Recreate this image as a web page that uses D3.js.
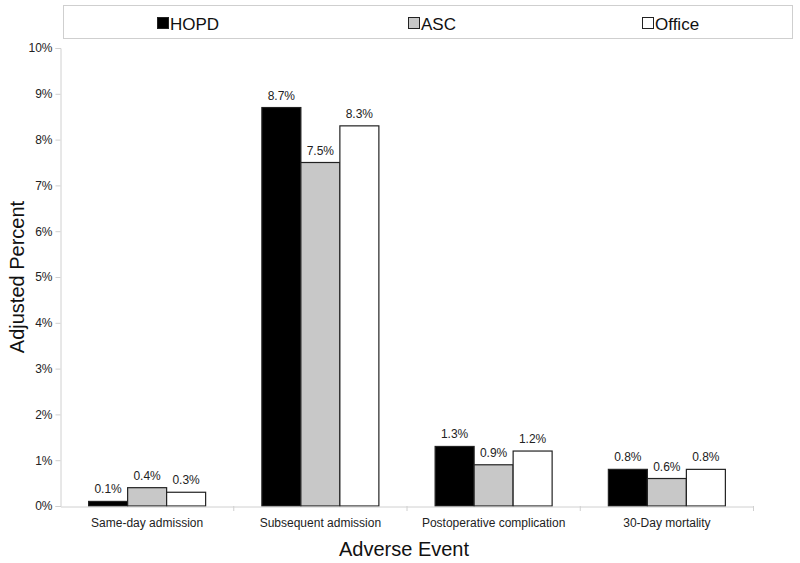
<!DOCTYPE html>
<html><head><meta charset="utf-8">
<script src="https://cdn.jsdelivr.net/npm/d3@7"></script>
<style>body{margin:0;background:#fff}svg{display:block}text{font-family:Arial,"Liberation Sans",sans-serif}</style>
</head><body><svg id="c" width="800" height="563"></svg>
<script>
const categories = ["Same-day admission","Subsequent admission","Postoperative complication","30-Day mortality"];
const seriesNames = ["HOPD","ASC","Office"];
const hopd = [0.1, 8.7, 1.3, 0.8];
const asc = [0.4, 7.5, 0.9, 0.6];
const office = [0.3, 8.3, 1.2, 0.8];
const yTicks = [0,1,2,3,4,5,6,7,8,9,10];
const seriesValues = [hopd, asc, office];
const colors = ["#000000","#c8c8c8","#ffffff"];

const svg = d3.select("#c");
const x = d3.scaleBand().domain(categories).range([60.5, 753.5]);
const y = d3.scaleLinear().domain([0,10]).range([506, 48]);
const inner = d3.scaleBand().domain(seriesNames).range([0, 117]);
const off = (x.bandwidth() - 117) / 2;

// y axis
const ya = svg.append("g").attr("transform","translate(60.5,0)")
  .call(d3.axisLeft(y).tickValues(yTicks).tickFormat(d => d + "%").tickSize(5).tickPadding(3));
ya.select(".domain").attr("stroke","#d0d0d0");
ya.selectAll(".tick line").attr("stroke","#d0d0d0");
ya.selectAll(".tick text").attr("font-size",12).attr("fill","#222");

// bars
categories.forEach((c, ci) => {
  seriesNames.forEach((s, si) => {
    const v = seriesValues[si][ci];
    const bx = x(c) + off + inner(s);
    svg.append("rect").attr("x", bx).attr("y", y(v)).attr("width", inner.bandwidth()).attr("height", y(0) - y(v))
      .attr("fill", colors[si]).attr("stroke", "#222").attr("stroke-width", 1.2);
    svg.append("text").attr("x", bx + inner.bandwidth()/2).attr("y", y(v) - 8)
      .attr("text-anchor","middle").attr("font-size",12).attr("fill","#222").text(v.toFixed(1) + "%");
  });
});

// x axis
const xa = svg.append("g").attr("transform","translate(0,506.5)")
  .call(d3.axisBottom(x).tickSize(0).tickPadding(12));
xa.select(".domain").attr("stroke","#d0d0d0");
xa.selectAll(".tick text").attr("font-size",12).attr("fill","#222");
// separator ticks between categories
const bounds = categories.map(c => x(c)).concat([x(categories[categories.length-1]) + x.bandwidth()]);
svg.append("g").selectAll("line").data(bounds.slice(1)).join("line")
  .attr("x1", d => d).attr("x2", d => d).attr("y1", 506).attr("y2", 511).attr("stroke","#d0d0d0");

// axis titles
svg.append("text").attr("x", 404).attr("y", 556).attr("text-anchor","middle").attr("font-size",20).attr("fill","#111").text("Adverse Event");
svg.append("text").attr("transform","translate(24,277) rotate(-90)").attr("text-anchor","middle").attr("font-size",20).attr("fill","#111").text("Adjusted Percent");

// legend
svg.append("rect").attr("x",63.5).attr("y",5.5).attr("width",729).attr("height",33).attr("fill","#fff").attr("stroke","#cfcfcf");
const legX = [157, 408, 642];
seriesNames.forEach((s, i) => {
  const g = svg.append("g").attr("transform",`translate(${legX[i]},17)`);
  g.append("rect").attr("x",0.5).attr("y",0.5).attr("width",11).attr("height",11).attr("fill",colors[i]).attr("stroke","#222");
  g.append("text").attr("x",13).attr("y",12.5).attr("font-size",17).attr("fill","#111").text(s);
});
</script></body></html>
